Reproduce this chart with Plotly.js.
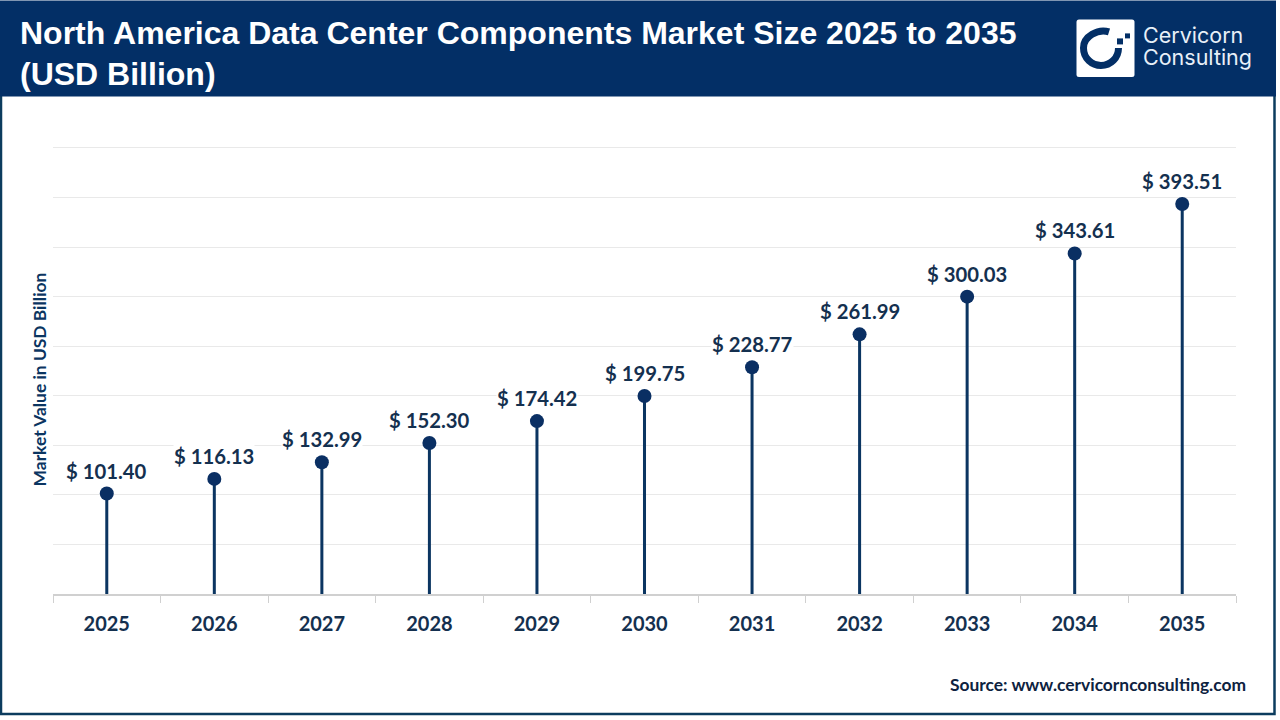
<!DOCTYPE html>
<html><head><meta charset="utf-8">
<script src="https://cdn.plot.ly/plotly-3.0.1.min.js"></script>
<style>html,body{margin:0;padding:0;background:#fff}#c{width:1280px;height:720px}</style>
</head><body><div id="c"></div>
<script>
const years = ['2025','2026','2027','2028','2029','2030','2031','2032','2033','2034','2035'];
const values = [101.40,116.13,132.99,152.30,174.42,199.75,228.77,261.99,300.03,343.61,393.51];
const gridTicks = [0,50,100,150,200,250,300,350,400,450];
const titleText = 'North America Data Center Components Market Size 2025 to 2035<br>(USD Billion)';
const yTitleText = 'Market Value in USD Billion';
const sourceText = 'Source: www.cervicornconsulting.com';
const logoWords = ['Cervicorn','Consulting'];

const NAVY='#032f66', STEM='#0b3561', DOT='#0a2f63', INK='#14304f';
const L=53,R=1236,T=145.6,B=593.6;
const px=x=>(x-L)/(R-L), py=y=>(B-y)/(B-T);
const P=(x,y)=>px(x)+','+py(y);

const shapes=[
 {type:'rect',xref:'paper',yref:'paper',layer:'below',x0:px(1),x1:px(1274.5),y0:py(60),y1:py(713.5),fillcolor:'rgba(0,0,0,0)',line:{color:'#0c3c5e',width:2.5}},
 {type:'rect',xref:'paper',yref:'paper',layer:'below',x0:px(0),x1:px(1276),y0:py(0),y1:py(96),fillcolor:NAVY,line:{width:0}},
 {type:'path',xref:'paper',yref:'paper',layer:'below',fillcolor:'#ffffff',line:{width:0},
  path:'M'+P(1079,19)+' L'+P(1132,19)+' Q'+P(1134.5,19)+' '+P(1134.5,21.5)+' L'+P(1134.5,74)+' Q'+P(1134.5,76.5)+' '+P(1132,76.5)+' L'+P(1079,76.5)+' Q'+P(1076.5,76.5)+' '+P(1076.5,74)+' L'+P(1076.5,21.5)+' Q'+P(1076.5,19)+' '+P(1079,19)+' Z'},
 {type:'path',xref:'paper',yref:'paper',layer:'below',line:{color:NAVY,width:7},fillcolor:'rgba(0,0,0,0)',
  path:'M'+P(1109,31.5)+' C'+P(1098,28)+' '+P(1083.5,36)+' '+P(1083.5,47.5)+' C'+P(1083.5,58)+' '+P(1092,65)+' '+P(1101,65)+' C'+P(1111,65)+' '+P(1118.5,57)+' '+P(1118.5,47.5)},
 {type:'rect',xref:'paper',yref:'paper',layer:'below',x0:px(1117),x1:px(1123),y0:py(38),y1:py(44),fillcolor:NAVY,line:{width:0}},
 {type:'rect',xref:'paper',yref:'paper',layer:'below',x0:px(1125),x1:px(1130),y0:py(33),y1:py(38),fillcolor:NAVY,line:{width:0}}
];

const annotations=years.map((y,i)=>({
  x:i,y:values[i],xref:'x',yref:'y',text:'$ '+values[i].toFixed(2),showarrow:false,
  yanchor:'bottom',yshift:10,bgcolor:'#ffffff',borderpad:0,
  font:{family:'Lato',size:20.3,color:INK,weight:700}
}));
annotations.push(
 {xref:'paper',yref:'paper',x:px(39.5),y:py(379.5),text:yTitleText,textangle:-90,showarrow:false,xanchor:'center',yanchor:'middle',font:{family:'Lato',size:17.4,color:STEM,weight:700}},
 {xref:'paper',yref:'paper',x:px(1248),y:py(684),text:sourceText,showarrow:false,xanchor:'right',yanchor:'middle',font:{family:'Lato',size:17.4,color:'#0d2240',weight:700}},
 {xref:'paper',yref:'paper',x:px(1141),y:py(35),text:logoWords[0],showarrow:false,xanchor:'left',yanchor:'middle',font:{family:'Inter',size:21.5,color:'#e8f0f8'}},
 {xref:'paper',yref:'paper',x:px(1141),y:py(56.5),text:logoWords[1],showarrow:false,xanchor:'left',yanchor:'middle',font:{family:'Inter',size:21.5,color:'#e8f0f8'}}
);

const traces=[
 {type:'bar',x:years,y:values,width:0.028,offset:-0.014,marker:{color:STEM,line:{width:0}},hoverinfo:'skip',showlegend:false},
 {type:'scatter',mode:'markers',x:years,y:values,marker:{size:14,color:DOT},showlegend:false}
];
const layout={
 width:1280,height:720,autosize:false,showlegend:false,
 paper_bgcolor:'#ffffff',plot_bgcolor:'#ffffff',
 margin:{l:L,r:1280-R,t:T,b:720-B,pad:0},
 title:{text:titleText,xref:'container',yref:'container',x:20/1280,xanchor:'left',y:1-43.5/720,yanchor:'middle',
   font:{family:'Liberation Sans',size:32,color:'#ffffff',weight:700}},
 xaxis:{type:'category',categoryorder:'array',categoryarray:years,range:[-0.5,10.5],fixedrange:true,
   tickson:'boundaries',ticks:'outside',ticklen:7,tickwidth:1,tickcolor:'#d0d0d0',ticklabelstandoff:11,
   showline:true,linecolor:'#d0d0d0',linewidth:1.5,showgrid:false,zeroline:false,
   tickfont:{family:'Lato',size:20,color:INK,weight:700}},
 yaxis:{range:[0,452],tickmode:'array',tickvals:gridTicks,showticklabels:false,ticks:'',fixedrange:true,
   showgrid:true,gridcolor:'#e9e9e9',gridwidth:1,zeroline:false,showline:false},
 shapes,annotations
};
Plotly.newPlot('c',traces,layout,{displayModeBar:false,staticPlot:true});
</script></body></html>
